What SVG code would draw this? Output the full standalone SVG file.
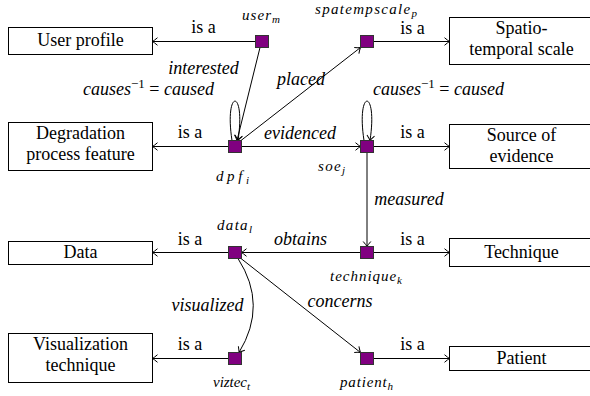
<svg xmlns="http://www.w3.org/2000/svg" width="590" height="396" viewBox="0 0 590 396" font-family="'Liberation Serif', 'DejaVu Serif', serif">
<style>
.box{fill:#fff;stroke:#000;stroke-width:1}
.node{fill:#800080;stroke:#333;stroke-width:1}
.e{fill:none;stroke:#000;stroke-width:1;marker-end:url(#arr)}
text{font-family:'Liberation Serif','DejaVu Serif',serif;font-size:18px;fill:#000}
.c{text-anchor:middle}
.i{font-style:italic}
.n{font-style:italic;font-size:15px}
.sub{font-size:11px}
.up{font-style:normal}
</style>
<defs>
<marker id="arr" markerUnits="userSpaceOnUse" viewBox="-6 -5 7 10" markerWidth="7" markerHeight="10" refX="0" refY="0" orient="auto">
<path d="M-5,-3.8 Q-1.5,-0.8 0,0 Q-1.5,0.8 -5,3.8" fill="none" stroke="#000" stroke-width="1"/>
</marker>
</defs>
<rect width="590" height="396" fill="#fff"/>
<g id="connectors">
<path class="e" d="M255.5,41.5 L152.5,41.5"/>
<path class="e" d="M373.5,41.5 L449.5,41.5"/>
<path class="e" d="M228.5,146.5 L152.5,146.5"/>
<path class="e" d="M241.5,146.5 L360.5,146.5"/>
<path class="e" d="M373.5,146.5 L449.5,146.5"/>
<path class="e" d="M260,47.5 L237,140.5"/>
<path class="e" d="M241,140.5 L360.5,47.5"/>
<path class="e" d="M232,140.5 C224,88 246,88 238,140.5"/>
<path class="e" d="M364,140.5 C356,88 378,88 370,140.5"/>
<path class="e" d="M367,152.5 L367,246.5"/>
<path class="e" d="M360.5,252.5 L241.5,252.5"/>
<path class="e" d="M373.5,252.5 L449.5,252.5"/>
<path class="e" d="M228.5,252.5 L152.5,252.5"/>
<path class="e" d="M238,258.5 Q268,305 239,352.5"/>
<path class="e" d="M241,258.5 L360.5,352.5"/>
<path class="e" d="M228.5,358.5 L152.5,358.5"/>
<path class="e" d="M373.5,358.5 L449.5,358.5"/>
</g>
<g id="edge-labels">
<text class="c" x="203.5" y="33">is a</text>
<text class="c" x="412.5" y="34">is a</text>
<text class="c" x="190" y="138">is a</text>
<text class="c" x="412.5" y="138">is a</text>
<text class="c" x="190" y="245">is a</text>
<text class="c" x="412.5" y="245">is a</text>
<text class="c" x="190" y="350">is a</text>
<text class="c" x="412.5" y="350">is a</text>
<text class="c i" x="203.5" y="74">interested</text>
<text class="i" x="83" y="95">causes<tspan class="up" font-size="13" dy="-7">−1</tspan><tspan class="up" dy="7"> = </tspan>caused</text>
<text class="i" x="373" y="95">causes<tspan class="up" font-size="13" dy="-7">−1</tspan><tspan class="up" dy="7"> = </tspan>caused</text>
<text class="c i" x="301" y="85">placed</text>
<text class="c i" x="300" y="139">evidenced</text>
<text class="c i" x="409" y="205">measured</text>
<text class="c i" x="300.5" y="245">obtains</text>
<text class="c i" x="207.5" y="311">visualized</text>
<text class="c i" x="340" y="307">concerns</text>
</g>
<g id="user_profile"><rect class="box" x="8.5" y="27.5" width="144" height="27"/><text class="c" x="80.5" y="46">User profile</text></g>
<g id="degradation"><rect class="box" x="8.5" y="122.5" width="144" height="48"/><text class="c" x="80.5" y="139">Degradation</text><text class="c" x="80.5" y="160">process feature</text></g>
<g id="data_box"><rect class="box" x="8.5" y="241.5" width="144" height="23"/><text class="c" x="80.5" y="258">Data</text></g>
<g id="vis_box"><rect class="box" x="8.5" y="333.5" width="144" height="49"/><text class="c" x="80.5" y="350">Visualization</text><text class="c" x="80.5" y="371">technique</text></g>
<g id="spatio_box"><rect class="box" x="449.5" y="17.5" width="144" height="47"/><text class="c" x="521.5" y="34">Spatio-</text><text class="c" x="521.5" y="55">temporal scale</text></g>
<g id="source_box"><rect class="box" x="449.5" y="124.5" width="144" height="44"/><text class="c" x="521.5" y="141">Source of</text><text class="c" x="521.5" y="162">evidence</text></g>
<g id="technique_box"><rect class="box" x="449.5" y="238.5" width="144" height="28"/><text class="c" x="521.5" y="258">Technique</text></g>
<g id="patient_box"><rect class="box" x="449.5" y="346.5" width="144" height="24"/><text class="c" x="521.5" y="364">Patient</text></g>
<g id="user_m"><rect class="node" x="255.5" y="35.5" width="13" height="12"/><text class="n" x="242" y="20" textLength="38">user<tspan class="sub" dy="3">m</tspan></text></g>
<g id="spatempscale_p"><rect class="node" x="360.5" y="35.5" width="13" height="12"/><text class="n" x="315" y="14" textLength="102">spatempscale<tspan class="sub" dy="3">p</tspan></text></g>
<g id="dpf_i"><rect class="node" x="228.5" y="140.5" width="13" height="12"/><text class="n" x="216" y="181" textLength="33">dpf<tspan class="sub" dy="3">i</tspan></text></g>
<g id="soe_j"><rect class="node" x="360.5" y="140.5" width="13" height="12"/><text class="n" x="318" y="171" textLength="27">soe<tspan class="sub" dy="3">j</tspan></text></g>
<g id="data_l"><rect class="node" x="228.5" y="246.5" width="13" height="12"/><text class="n" x="217" y="230" textLength="35">data<tspan class="sub" dy="3">l</tspan></text></g>
<g id="technique_k"><rect class="node" x="360.5" y="246.5" width="13" height="12"/><text class="n" x="330" y="281" textLength="72">technique<tspan class="sub" dy="3">k</tspan></text></g>
<g id="viztec_t"><rect class="node" x="228.5" y="352.5" width="13" height="12"/><text class="n" x="213" y="387" textLength="37">viztec<tspan class="sub" dy="3">t</tspan></text></g>
<g id="patient_h"><rect class="node" x="360.5" y="352.5" width="13" height="12"/><text class="n" x="340" y="387" textLength="53">patient<tspan class="sub" dy="3">h</tspan></text></g>
</svg>
